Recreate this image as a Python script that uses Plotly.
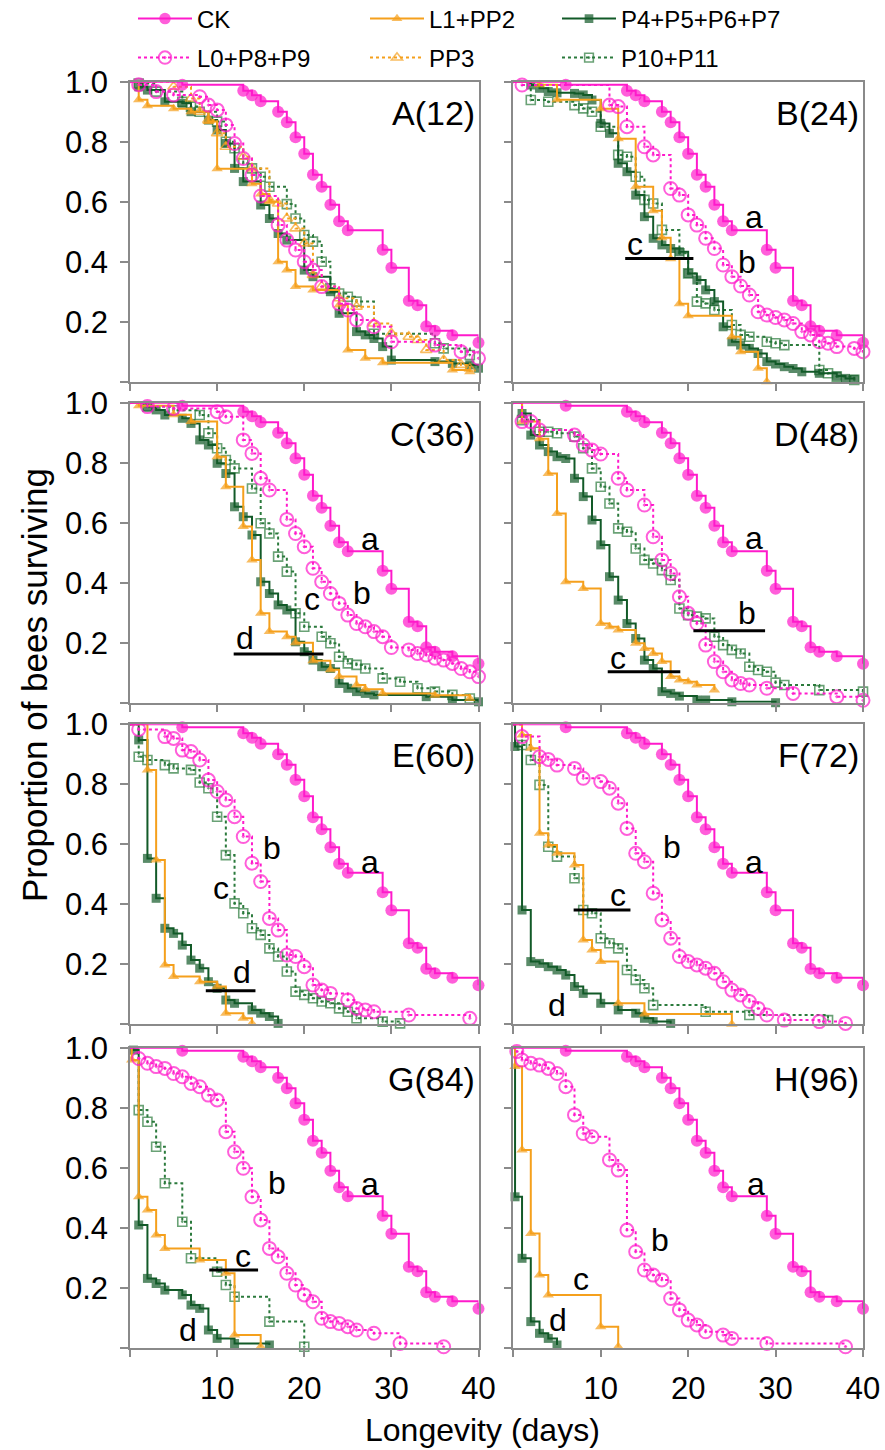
import plotly.graph_objects as go

W, H = 885, 1450

# ---------------- data (days, proportion surviving) ----------------
CK_days = [0, 6, 13, 14, 15, 17, 18, 19, 20, 21, 22, 23, 24, 25, 29, 30, 32, 33, 34, 35, 37, 40]
CK_surv = [1.0, 0.99, 0.97, 0.955, 0.935, 0.90, 0.865, 0.815, 0.76, 0.69, 0.65, 0.59, 0.535, 0.505,
           0.44, 0.38, 0.27, 0.255, 0.185, 0.17, 0.155, 0.13]

# Panel A (12)
A_L0_days = [0, 1, 3, 5, 8, 9, 10, 11, 12, 13, 14, 15, 17, 18, 19, 20, 21, 22, 24, 25, 26, 28, 30, 35, 38, 40]
A_L0_surv = [1.0, 0.99, 0.967, 0.956, 0.95, 0.922, 0.906, 0.856, 0.794, 0.744, 0.689, 0.619, 0.522, 0.472,
             0.439, 0.40, 0.372, 0.317, 0.26, 0.239, 0.206, 0.183, 0.133, 0.122, 0.10, 0.078]
A_L1_days = [0, 1, 2, 5, 7, 9, 10, 14, 15, 16, 17, 18, 19, 21, 24, 25, 27, 29, 37, 39]
A_L1_surv = [1.0, 0.94, 0.92, 0.91, 0.90, 0.867, 0.71, 0.66, 0.626, 0.60, 0.40, 0.372, 0.317, 0.306,
             0.256, 0.106, 0.078, 0.063, 0.039, 0.033]
A_PP3_days = [0, 5, 7, 8, 9, 10, 11, 13, 14, 16, 17, 18, 19, 20, 21, 22, 24, 26, 28, 30, 32, 33, 34, 36, 38, 39]
A_PP3_surv = [1.0, 0.983, 0.944, 0.90, 0.872, 0.828, 0.783, 0.75, 0.711, 0.606, 0.594, 0.544, 0.511, 0.461,
              0.356, 0.317, 0.278, 0.25, 0.194, 0.161, 0.15, 0.139, 0.106, 0.072, 0.056, 0.044]
A_P4_days = [0, 1, 2, 4, 6, 7, 9, 10, 11, 12, 13, 15, 16, 17, 18, 20, 21, 23, 24, 26, 27, 28, 29, 30, 35, 37, 39, 40]
A_P4_surv = [1.0, 0.983, 0.972, 0.933, 0.928, 0.90, 0.872, 0.839, 0.794, 0.711, 0.667, 0.589, 0.544, 0.494,
             0.472, 0.372, 0.35, 0.30, 0.228, 0.167, 0.156, 0.144, 0.117, 0.072, 0.067, 0.061, 0.056, 0.045]
A_P10_days = [0, 1, 3, 6, 7, 8, 10, 11, 12, 13, 14, 15, 16, 18, 19, 20, 21, 22, 23, 24, 25, 26, 28, 35, 36, 39]
A_P10_surv = [1.0, 0.994, 0.967, 0.933, 0.917, 0.90, 0.867, 0.80, 0.778, 0.728, 0.711, 0.683, 0.65, 0.592,
              0.544, 0.489, 0.467, 0.40, 0.311, 0.294, 0.283, 0.267, 0.16, 0.128, 0.111, 0.089]

# Panel B (24)
B_L0_days = [0, 1, 11, 12, 13, 15, 16, 18, 19, 20, 21, 22, 23, 24, 25, 26, 27, 28, 29, 30, 31, 32, 33, 34, 35, 36, 37, 39, 40]
B_L0_surv = [1.0, 0.989, 0.922, 0.917, 0.85, 0.783, 0.756, 0.644, 0.622, 0.556, 0.522, 0.478, 0.444, 0.389,
             0.35, 0.319, 0.289, 0.233, 0.222, 0.214, 0.206, 0.194, 0.167, 0.156, 0.133, 0.128, 0.117, 0.111, 0.10]
B_L1_days = [0, 3, 5, 10, 12, 14, 16, 17, 18, 19, 20, 25, 26, 28, 29]
B_L1_surv = [1.0, 0.99, 0.94, 0.91, 0.81, 0.65, 0.57, 0.48, 0.41, 0.26, 0.22, 0.15, 0.10, 0.045, 0.0]
B_P4_days = [0, 2, 3, 4, 5, 7, 8, 9, 10, 11, 12, 13, 14, 15, 16, 17, 18, 19, 20, 21, 22, 23, 24, 25, 26, 27,
             28, 29, 30, 31, 32, 33, 35, 37, 38, 39]
B_P4_surv = [1.0, 0.989, 0.978, 0.967, 0.963, 0.961, 0.956, 0.939, 0.861, 0.828, 0.728, 0.70, 0.622, 0.55,
             0.478, 0.456, 0.444, 0.433, 0.361, 0.339, 0.306, 0.267, 0.183, 0.133, 0.122, 0.111, 0.094,
             0.067, 0.059, 0.05, 0.044, 0.033, 0.028, 0.019, 0.011, 0.008]
B_P10_days = [0, 2, 4, 7, 8, 9, 10, 12, 13, 14, 15, 16, 17, 19, 20, 21, 22, 23, 25, 26, 27, 29, 30, 31, 35, 36, 37, 39]
B_P10_surv = [1.0, 0.939, 0.933, 0.922, 0.911, 0.90, 0.85, 0.756, 0.75, 0.683, 0.606, 0.594, 0.506, 0.428,
              0.361, 0.267, 0.261, 0.239, 0.189, 0.156, 0.15, 0.133, 0.128, 0.122, 0.039, 0.028, 0.017, 0.006]

# Panel C (36)
C_L0_days = [0, 2, 5, 10, 11, 13, 14, 15, 16, 18, 19, 20, 21, 22, 23, 24, 25, 26, 27, 28, 29, 30, 32, 33, 34,
             35, 36, 37, 38, 39, 40]
C_L0_surv = [1.0, 0.987, 0.981, 0.97, 0.953, 0.876, 0.831, 0.748, 0.709, 0.611, 0.564, 0.52, 0.448, 0.403,
             0.364, 0.331, 0.292, 0.264, 0.253, 0.237, 0.22, 0.184, 0.176, 0.164, 0.159, 0.148, 0.142, 0.131,
             0.114, 0.103, 0.087]
C_L1_days = [0, 1, 5, 7, 10, 11, 13, 14, 15, 16, 18, 19, 21, 23, 24, 26, 27, 29, 35, 39]
C_L1_surv = [1.0, 0.99, 0.96, 0.937, 0.82, 0.72, 0.587, 0.476, 0.298, 0.237, 0.22, 0.20, 0.14, 0.11, 0.087,
             0.059, 0.045, 0.031, 0.025, 0.014]
C_P4_days = [0, 2, 3, 4, 6, 7, 8, 9, 10, 11, 12, 13, 14, 15, 16, 17, 18, 19, 20, 21, 22, 23, 24, 25, 26, 27,
             28, 34, 37, 40]
C_P4_surv = [1.0, 0.987, 0.976, 0.959, 0.948, 0.931, 0.876, 0.859, 0.798, 0.764, 0.653, 0.62, 0.559, 0.403,
             0.364, 0.326, 0.309, 0.203, 0.17, 0.142, 0.12, 0.114, 0.064, 0.048, 0.037, 0.031, 0.026, 0.02,
             0.009, 0.003]
C_P10_days = [0, 2, 5, 8, 9, 10, 11, 12, 14, 15, 16, 17, 18, 19, 20, 22, 23, 24, 25, 26, 27, 29, 31, 33, 35, 37, 39]
C_P10_surv = [1.0, 0.987, 0.975, 0.959, 0.898, 0.848, 0.809, 0.781, 0.714, 0.598, 0.564, 0.487, 0.437,
              0.298, 0.253, 0.22, 0.198, 0.153, 0.131, 0.126, 0.114, 0.081, 0.07, 0.048, 0.037, 0.026, 0.014]

# Panel D (48)
D_L0_days = [0, 1, 2, 3, 7, 8, 9, 10, 12, 13, 15, 16, 17, 18, 19, 20, 21, 22, 23, 24, 25, 26, 27, 29, 32, 37, 40]
D_L0_surv = [1.0, 0.937, 0.937, 0.909, 0.892, 0.859, 0.842, 0.829, 0.748, 0.709, 0.659, 0.553, 0.476, 0.431,
             0.353, 0.298, 0.264, 0.192, 0.137, 0.103, 0.076, 0.064, 0.059, 0.048, 0.031, 0.02, 0.008]
D_L1_days = [0, 1, 3, 4, 5, 6, 8, 10, 11, 12, 14, 15, 16, 17, 18, 19, 20, 21, 23]
D_L1_surv = [1.0, 0.937, 0.88, 0.764, 0.631, 0.403, 0.381, 0.264, 0.253, 0.242, 0.198, 0.181, 0.164, 0.137,
             0.087, 0.076, 0.07, 0.059, 0.042]
D_P4_days = [0, 1, 2, 3, 4, 5, 6, 7, 8, 9, 10, 11, 12, 13, 14, 15, 16, 17, 18, 19, 21, 22, 25, 30]
D_P4_surv = [1.0, 0.964, 0.892, 0.859, 0.837, 0.82, 0.814, 0.748, 0.687, 0.609, 0.526, 0.42, 0.342, 0.264,
             0.214, 0.142, 0.114, 0.037, 0.031, 0.022, 0.009, 0.009, 0.003, 0.0]
D_P10_days = [0, 1, 3, 4, 5, 7, 8, 9, 10, 11, 12, 13, 14, 15, 16, 17, 18, 19, 20, 21, 22, 23, 24, 25, 26, 27,
              28, 29, 30, 31, 35, 40]
D_P10_surv = [1.0, 0.942, 0.903, 0.903, 0.898, 0.887, 0.848, 0.781, 0.72, 0.664, 0.581, 0.57, 0.514, 0.476,
              0.464, 0.442, 0.409, 0.314, 0.292, 0.287, 0.281, 0.22, 0.192, 0.176, 0.164, 0.12, 0.109, 0.103,
              0.067, 0.059, 0.042, 0.037]

# Panel E (60)
E_L0_days = [0, 1, 4, 5, 6, 7, 8, 9, 10, 11, 12, 13, 14, 15, 16, 17, 18, 19, 20, 21, 22, 23, 25, 26, 27, 28, 32, 39]
E_L0_surv = [1.0, 0.983, 0.959, 0.953, 0.914, 0.909, 0.881, 0.814, 0.776, 0.748, 0.692, 0.626, 0.537, 0.476,
             0.353, 0.314, 0.231, 0.226, 0.192, 0.131, 0.114, 0.103, 0.081, 0.053, 0.048, 0.042, 0.031, 0.02]
E_L1_days = [0, 2, 3, 4, 5, 8, 10, 11, 13, 14]
E_L1_surv = [1.0, 0.848, 0.548, 0.198, 0.159, 0.142, 0.126, 0.037, 0.02, 0.003]
E_P4_days = [0, 1, 2, 3, 4, 5, 6, 7, 8, 9, 10, 11, 12, 14, 15, 16, 17]
E_P4_surv = [1.0, 0.948, 0.553, 0.42, 0.32, 0.303, 0.264, 0.214, 0.187, 0.142, 0.12, 0.081, 0.07, 0.048,
             0.037, 0.026, 0.003]
E_P10_days = [0, 1, 2, 4, 5, 7, 8, 9, 10, 11, 12, 13, 14, 15, 16, 17, 18, 19, 20, 21, 22, 23, 24, 25, 26, 29, 31]
E_P10_surv = [1.0, 0.892, 0.881, 0.864, 0.853, 0.848, 0.806, 0.787, 0.692, 0.564, 0.403, 0.37, 0.32, 0.298,
              0.253, 0.226, 0.176, 0.109, 0.098, 0.087, 0.076, 0.07, 0.053, 0.042, 0.02, 0.009, 0.003]

# Panel F (72)
F_L0_days = [0, 1, 3, 4, 5, 7, 8, 10, 11, 12, 13, 14, 15, 16, 17, 18, 19, 20, 21, 22, 23, 24, 25, 26, 27, 28,
             29, 31, 35, 38]
F_L0_surv = [1.0, 0.959, 0.892, 0.883, 0.864, 0.853, 0.82, 0.809, 0.787, 0.737, 0.653, 0.57, 0.542, 0.437,
             0.348, 0.287, 0.226, 0.209, 0.198, 0.187, 0.17, 0.142, 0.114, 0.098, 0.076, 0.053, 0.031, 0.014,
             0.009, 0.003]
F_L1_days = [0, 1, 2, 3, 4, 5, 7, 8, 9, 10, 12, 15, 25]
F_L1_surv = [1.0, 0.964, 0.92, 0.637, 0.598, 0.57, 0.531, 0.281, 0.248, 0.209, 0.07, 0.034, 0.0]
F_P4_days = [0, 0.2, 1, 2, 3, 4, 5, 6, 7, 8, 10, 12, 14, 15, 16, 18]
F_P4_surv = [1.0, 0.926, 0.381, 0.209, 0.203, 0.192, 0.181, 0.164, 0.126, 0.103, 0.07, 0.048, 0.037, 0.02,
             0.009, 0.003]
F_P10_days = [0, 1, 2, 3, 4, 5, 7, 8, 9, 10, 11, 12, 13, 14, 15, 16, 22, 27, 36]
F_P10_surv = [1.0, 0.931, 0.881, 0.798, 0.592, 0.559, 0.487, 0.381, 0.37, 0.287, 0.27, 0.253, 0.181, 0.148,
              0.12, 0.064, 0.042, 0.031, 0.014]

# Panel G (84)
G_L0_days = [0, 1, 2, 3, 4, 5, 6, 7, 8, 9, 10, 11, 12, 13, 14, 15, 16, 17, 18, 19, 20, 21, 22, 23, 24, 25,
             26, 28, 31, 36]
G_L0_surv = [1.0, 0.964, 0.948, 0.937, 0.931, 0.914, 0.903, 0.881, 0.87, 0.842, 0.826, 0.72, 0.653, 0.598,
             0.503, 0.426, 0.331, 0.303, 0.248, 0.209, 0.176, 0.153, 0.098, 0.087, 0.081, 0.07, 0.059, 0.048,
             0.014, 0.003]
G_L1_days = [0, 0.2, 1, 2, 3, 4, 8, 11, 12, 15]
G_L1_surv = [1.0, 0.959, 0.503, 0.459, 0.376, 0.331, 0.292, 0.248, 0.042, 0.003]
G_P4_days = [0, 0.4, 1, 2, 3, 4, 6, 7, 8, 9, 10, 12, 16]
G_P4_surv = [1.0, 0.992, 0.409, 0.231, 0.214, 0.192, 0.176, 0.142, 0.131, 0.059, 0.031, 0.014, 0.009]
G_P10_days = [0, 1, 2, 3, 4, 6, 7, 10, 11, 12, 16, 20]
G_P10_surv = [1.0, 0.792, 0.753, 0.67, 0.548, 0.42, 0.298, 0.253, 0.209, 0.17, 0.087, 0.003]

# Panel H (96)
H_L0_days = [0, 0.4, 1, 2, 3, 4, 5, 6, 7, 8, 9, 11, 12, 13, 14, 15, 16, 17, 18, 19, 20, 21, 22, 24, 25, 29, 38]
H_L0_surv = [1.0, 0.987, 0.959, 0.948, 0.942, 0.931, 0.914, 0.87, 0.776, 0.714, 0.703, 0.626, 0.592, 0.392,
             0.32, 0.259, 0.242, 0.226, 0.164, 0.126, 0.092, 0.076, 0.053, 0.042, 0.031, 0.014, 0.003]
H_L1_days = [0, 0.2, 1, 2, 3, 4, 10, 12]
H_L1_surv = [1.0, 0.937, 0.659, 0.381, 0.242, 0.176, 0.07, 0.003]
H_P4_days = [0, 0.2, 1, 2, 3, 4, 5]
H_P4_surv = [1.0, 0.503, 0.298, 0.087, 0.048, 0.031, 0.009]

panel_labels = ["A(12)", "B(24)", "C(36)", "D(48)", "E(60)", "F(72)", "G(84)", "H(96)"]
x_ticks = [0, 10, 20, 30, 40]
x_ticktext = ["", "10", "20", "30", "40"]
y_ticks = [0, 0.2, 0.4, 0.6, 0.8, 1.0]
y_ticktext = ["", "0.2", "0.4", "0.6", "0.8", "1.0"]

series_names = {"CK": "CK", "L0": "L0+P8+P9", "L1": "L1+PP2", "PP3": "PP3",
                "P4": "P4+P5+P6+P7", "P10": "P10+P11"}

panels = [
    {"P10": (A_P10_days, A_P10_surv), "P4": (A_P4_days, A_P4_surv), "PP3": (A_PP3_days, A_PP3_surv),
     "L1": (A_L1_days, A_L1_surv), "L0": (A_L0_days, A_L0_surv), "CK": (CK_days, CK_surv)},
    {"P10": (B_P10_days, B_P10_surv), "P4": (B_P4_days, B_P4_surv), "L1": (B_L1_days, B_L1_surv),
     "L0": (B_L0_days, B_L0_surv), "CK": (CK_days, CK_surv)},
    {"P10": (C_P10_days, C_P10_surv), "P4": (C_P4_days, C_P4_surv), "L1": (C_L1_days, C_L1_surv),
     "L0": (C_L0_days, C_L0_surv), "CK": (CK_days, CK_surv)},
    {"P10": (D_P10_days, D_P10_surv), "P4": (D_P4_days, D_P4_surv), "L1": (D_L1_days, D_L1_surv),
     "L0": (D_L0_days, D_L0_surv), "CK": (CK_days, CK_surv)},
    {"P10": (E_P10_days, E_P10_surv), "P4": (E_P4_days, E_P4_surv), "L1": (E_L1_days, E_L1_surv),
     "L0": (E_L0_days, E_L0_surv), "CK": (CK_days, CK_surv)},
    {"P10": (F_P10_days, F_P10_surv), "P4": (F_P4_days, F_P4_surv), "L1": (F_L1_days, F_L1_surv),
     "L0": (F_L0_days, F_L0_surv), "CK": (CK_days, CK_surv)},
    {"P10": (G_P10_days, G_P10_surv), "P4": (G_P4_days, G_P4_surv), "L1": (G_L1_days, G_L1_surv),
     "L0": (G_L0_days, G_L0_surv), "CK": (CK_days, CK_surv)},
    {"P4": (H_P4_days, H_P4_surv), "L1": (H_L1_days, H_L1_surv),
     "L0": (H_L0_days, H_L0_surv), "CK": (CK_days, CK_surv)},
]

# significance letters: (panel index, letter, day, surv)
letters = [
    (1, "a", 27.5, 0.55), (1, "b", 26.7, 0.40), (1, "c", 13.9, 0.46),
    (2, "a", 27.6, 0.545), (2, "b", 26.6, 0.365), (2, "c", 20.9, 0.345), (2, "d", 13.2, 0.215),
    (3, "a", 27.5, 0.55), (3, "b", 26.7, 0.298), (3, "c", 12.0, 0.15),
    (4, "a", 27.6, 0.54), (4, "b", 16.3, 0.587), (4, "c", 10.5, 0.455), (4, "d", 12.8, 0.175),
    (5, "a", 27.5, 0.54), (5, "b", 18.1, 0.592), (5, "c", 12.0, 0.43), (5, "d", 5.0, 0.064),
    (6, "a", 27.6, 0.545), (6, "b", 16.9, 0.548), (6, "c", 13.0, 0.307), (6, "d", 6.7, 0.059),
    (7, "a", 27.8, 0.545), (7, "b", 16.8, 0.359), (7, "c", 7.8, 0.23), (7, "d", 5.1, 0.092),
]
# grouping bars: (panel index, day start, day end, surv)
bars = [
    (1, 12.8, 20.6, 0.411), (2, 11.9, 22.2, 0.162), (3, 20.6, 28.8, 0.24), (3, 10.8, 19.1, 0.103),
    (4, 8.7, 14.4, 0.112), (5, 6.9, 13.4, 0.381), (6, 9.1, 14.7, 0.259),
]

# ---------------- styles ----------------
FONT = "Liberation Sans, Arial, sans-serif"
PINK = "#FF1ACB"
ORANGE = "#F5A01C"
DKGREEN = "#125A28"
GREEN2 = "#2B7A3C"
AXCOL = "#8a8a8a"

styles = {
    "CK": dict(color=PINK, dash="solid", symbol="circle", size=12, lw=0),
    "L0": dict(color=PINK, dash="dot", symbol="circle-open-dot", size=13, lw=2),
    "L1": dict(color=ORANGE, dash="solid", symbol="triangle-up", size=10, lw=0),
    "PP3": dict(color=ORANGE, dash="dot", symbol="triangle-up-open", size=10, lw=1.6),
    "P4": dict(color=DKGREEN, dash="solid", symbol="square", size=9, lw=0),
    "P10": dict(color=GREEN2, dash="dot", symbol="square-open-dot", size=9, lw=1.6),
}
legend_ids = {"CK": "legend", "L1": "legend2", "P4": "legend3",
              "L0": "legend4", "PP3": "legend5", "P10": "legend6"}
# legend placement in pixels (left of entry box, vertical centre)
legend_px = {"CK": (133, 19), "L1": (365, 19), "P4": (557, 19),
             "L0": (133, 58), "PP3": (365, 58), "P10": (557, 58)}

col_px = [(130.0, 478.5), (513.3, 863.0)]
row_px = [(81.7, 381.7), (402.7, 702.7), (724.3, 1024.3), (1047.7, 1347.7)]

fig = go.Figure()
layout = dict(width=W, height=H, margin=dict(l=0, r=0, t=0, b=0, autoexpand=False),
              paper_bgcolor="white", plot_bgcolor="white",
              font=dict(family=FONT, color="black"), showlegend=True)

annotations = []
shapes = []
for i, series in enumerate(panels):
    r, c = divmod(i, 2)
    xs = "" if i == 0 else str(i + 1)
    x0, x1 = col_px[c]
    y0, y1 = row_px[r]
    layout["xaxis" + xs] = dict(
        domain=[x0 / W, x1 / W], anchor="y" + xs, range=[0, 40], automargin=False,
        tickvals=x_ticks, ticktext=x_ticktext if r == 3 else [""] * 5,
        showline=True, mirror=True, linecolor=AXCOL, linewidth=1.5,
        ticks="outside", ticklen=8, tickwidth=1.5, tickcolor=AXCOL,
        showgrid=False, zeroline=False, ticklabelstandoff=4,
        tickfont=dict(size=31, family=FONT, color="black"))
    layout["yaxis" + xs] = dict(
        domain=[1 - y1 / H, 1 - y0 / H], anchor="x" + xs, range=[0, 1], automargin=False,
        tickvals=y_ticks, ticktext=y_ticktext if c == 0 else [""] * 6,
        showline=True, mirror=True, linecolor=AXCOL, linewidth=1.5,
        ticks="outside", ticklen=8, tickwidth=1.5, tickcolor=AXCOL,
        showgrid=False, zeroline=False, ticklabelstandoff=6,
        tickfont=dict(size=31, family=FONT, color="black"))
    for key, (days, surv) in series.items():
        st = styles[key]
        sizes = [0] + [st["size"]] * (len(days) - 1)
        fig.add_trace(go.Scatter(
            x=days, y=surv, mode="lines+markers", name=series_names[key],
            xaxis="x" + xs, yaxis="y" + xs, legendgroup=key,
            legend=legend_ids[key], showlegend=(i == 0),
            line=dict(color=st["color"], dash=st["dash"], width=2, shape="hv"),
            marker=dict(symbol=st["symbol"], size=sizes, color=st["color"],
                        line=dict(color=st["color"], width=st["lw"])),
            cliponaxis=False, hoverinfo="skip"))
    annotations.append(dict(
        text=panel_labels[i], xref="x" + xs, yref="y" + xs, x=39.8, y=0.897,
        xanchor="right", yanchor="middle", showarrow=False,
        font=dict(size=34, family=FONT, color="black")))

for (pi, txt, dx, sy) in letters:
    xs = "" if pi == 0 else str(pi + 1)
    annotations.append(dict(text=txt, xref="x" + xs, yref="y" + xs, x=dx, y=sy,
                            xanchor="center", yanchor="middle", showarrow=False,
                            font=dict(size=32, family=FONT, color="black")))
for (pi, xa, xb, sy) in bars:
    xs = "" if pi == 0 else str(pi + 1)
    shapes.append(dict(type="line", xref="x" + xs, yref="y" + xs, x0=xa, x1=xb, y0=sy, y1=sy,
                       line=dict(color="black", width=3)))

annotations.append(dict(text="Proportion of bees surviving", xref="paper", yref="paper",
                        x=35 / W, y=1 - 685 / H, textangle=-90, showarrow=False,
                        xanchor="center", yanchor="middle",
                        font=dict(size=35, family=FONT, color="black")))
annotations.append(dict(text="Longevity (days)", xref="paper", yref="paper",
                        x=483 / W, y=1 - 1430 / H, showarrow=False,
                        xanchor="center", yanchor="middle",
                        font=dict(size=32, family=FONT, color="black")))

for key, lid in legend_ids.items():
    lx, ly = legend_px[key]
    layout[lid] = dict(x=lx / W, y=1 - ly / H, xanchor="left", yanchor="middle",
                       orientation="h", bgcolor="rgba(0,0,0,0)", borderwidth=0,
                       itemwidth=54, font=dict(size=24, family=FONT, color="black"))

layout["annotations"] = annotations
layout["shapes"] = shapes
fig.update_layout(**layout)
fig.write_html("out.html", config={"displayModeBar": False},
               post_script="document.body.style.margin='0px';")
